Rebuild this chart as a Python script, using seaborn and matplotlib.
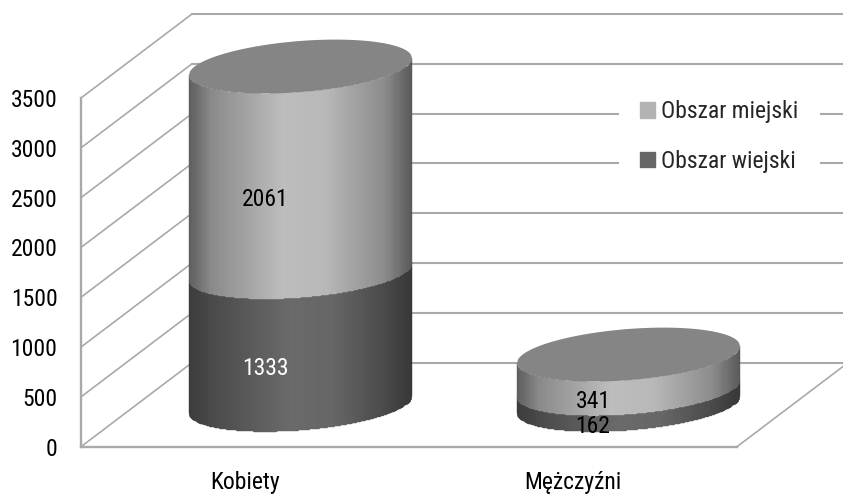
import numpy as np
import matplotlib
matplotlib.use('Agg')
import matplotlib.pyplot as plt
import seaborn as sns
from matplotlib.colors import LinearSegmentedColormap
from matplotlib.patches import Patch, PathPatch
from matplotlib.path import Path
from matplotlib.transforms import Affine2D

plec = ['Kobiety', 'Mężczyźni']
obszar_wiejski = [1333, 162]
obszar_miejski = [2061, 341]
y_ticks = [0, 500, 1000, 1500, 2000, 2500, 3000, 3500]
legend_labels = ['Obszar miejski', 'Obszar wiejski']

sns.set_theme(style='white')
plt.rcParams['font.family'] = ['Roboto Condensed', 'Roboto', 'DejaVu Sans']

GRID = '#a9a9a9'
FONT = 17

n = len(plec)
pos = np.arange(n)

fig = plt.figure(figsize=(8.43, 4.94), dpi=100)
ax = fig.add_axes([81 / 843, 47.3 / 494, 656 / 843, 348.7 / 494])

sns.barplot(x=pos, y=obszar_wiejski, native_scale=True, color='#666666', saturation=1, width=0.68,
            errorbar=None, ax=ax)
sns.barplot(x=pos, y=obszar_miejski, native_scale=True, bottom=obszar_wiejski, color='#b3b3b3', saturation=1,
            width=0.68, errorbar=None, ax=ax)

ax.set_xlim(-0.5, 1.5)
ax.set_ylim(0, 3500)

# Depth of the fake 3D box, in pixels
full_depth = ax.transData + Affine2D().translate(111, 84)
half_depth = ax.transData + Affine2D().translate(55.5, 42)
label_shift = ax.transData + Affine2D().translate(20, 12)

# Back wall, side wall and floor
for v in y_ticks:
    ax.plot([-0.5, 1.5], [v, v], color=GRID, lw=1.5, transform=full_depth, clip_on=False, zorder=1)
    start = ax.transData.transform((-0.5, v))
    ax.plot([start[0], start[0] + 111], [start[1], start[1] + 84], color=GRID, lw=1.2,
            transform=None, clip_on=False, zorder=1)
corner = ax.transData.transform((1.5, 0))
ax.plot([corner[0], corner[0] + 111], [corner[1], corner[1] + 84], color=GRID, lw=1.2,
        transform=None, clip_on=False, zorder=1)

# Cylinders are built on top of the bars seaborn drew
light = LinearSegmentedColormap.from_list('light', [(0, '#5e5e5e'), (0.1, '#8a8a8a'), (0.42, '#bdbdbd'),
                                                    (0.62, '#b8b8b8'), (0.88, '#8c8c8c'), (1, '#5a5a5a')])
dark = LinearSegmentedColormap.from_list('dark', [(0, '#3c3c3c'), (0.12, '#4c4c4c'), (0.45, '#6a6a6a'),
                                                  (0.65, '#666666'), (0.88, '#4a4a4a'), (1, '#383838')])
ELLIPSE_B = 257
TILT = 85
u = np.linspace(-1, 1, 200)


def front_arc(base):
    return base + TILT * u - ELLIPSE_B * np.sqrt(1 - u ** 2)


def back_arc(base):
    return base + TILT * u + ELLIPSE_B * np.sqrt(1 - u ** 2)


shade = (u[:-1] + u[1:]).reshape(1, -1) / 4 + 0.5
for i, bar in enumerate(list(ax.patches)):
    x0, x1 = bar.get_x(), bar.get_x() + bar.get_width()
    y0, y1 = bar.get_y(), bar.get_y() + bar.get_height()
    xs = (x0 + x1) / 2 + u * (x1 - x0) / 2
    bar.set_visible(False)

    mesh_x = np.vstack([xs, xs])
    mesh_y = np.vstack([front_arc(y0), front_arc(y1)])
    ax.pcolormesh(mesh_x, mesh_y, shade, cmap=dark if i < n else light, vmin=0, vmax=1, shading='flat',
                  transform=half_depth, clip_on=False, zorder=3, antialiased=True, edgecolors='face', linewidth=0.3)

    if i >= n:
        cap = np.vstack([np.column_stack([xs, front_arc(y1)]), np.column_stack([xs[::-1], back_arc(y1)[::-1]])])
        ax.add_patch(PathPatch(Path(np.vstack([cap, cap[:1]])), transform=half_depth, facecolor='#858585',
                               edgecolor='none', clip_on=False, zorder=4))

ax.set_xlim(-0.5, 1.5)
ax.set_ylim(0, 3500)

# Value labels
for i in range(n):
    ax.text(i, obszar_wiejski[i] / 2, str(obszar_wiejski[i]), transform=label_shift, ha='center', va='center',
            fontsize=FONT, color='white' if i == 0 else 'black', zorder=6, clip_on=False)
    ax.text(i, obszar_wiejski[i] + obszar_miejski[i] / 2, str(obszar_miejski[i]), transform=label_shift,
            ha='center', va='center', fontsize=FONT, color='black', zorder=6, clip_on=False)

ax.set_yticks(y_ticks)
ax.set_xticks(pos)
ax.set_xticklabels(plec)
ax.tick_params(axis='y', length=0, pad=17, labelsize=FONT, labelcolor='black')
ax.tick_params(axis='x', length=0, pad=17.5, labelsize=FONT, labelcolor='black')
ax.set_xlabel('')
ax.set_ylabel('')
ax.patch.set_alpha(0)

sns.despine(ax=ax, top=True, right=True)
for side_name in ['left', 'bottom']:
    ax.spines[side_name].set_color(GRID)
    ax.spines[side_name].set_linewidth(1.7)

handles = [Patch(color='#b3b3b3'), Patch(color='#666666')]
leg = ax.legend(handles, legend_labels, loc='center', bbox_to_anchor=(719.5 / 843, 1 - 136.5 / 494),
                bbox_transform=fig.transFigure, frameon=True, framealpha=1, facecolor='white', edgecolor='none',
                fontsize=FONT, handlelength=0.64, handleheight=0.64, handletextpad=0.25, labelspacing=1.14,
                borderpad=0.89, fancybox=False)
leg.set_zorder(5)

fig.savefig('out.png', dpi=100)
